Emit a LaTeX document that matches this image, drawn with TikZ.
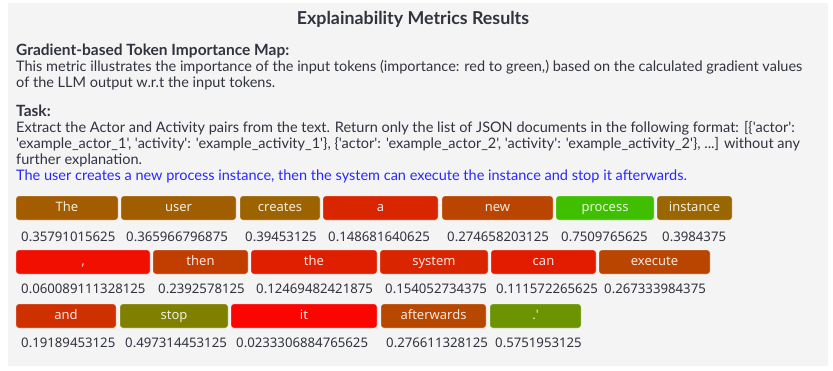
\documentclass[tikz,border=0pt]{standalone}
\usepackage{fontspec}
\setmainfont{Lato}[Ligatures=TeXOff]
\newfontfamily\tokfont{Noto Sans}[Ligatures=TeXOff]
\usepackage{xcolor}
\usepackage{tikz}
\definecolor{panelcolor}{RGB}{244, 244, 244}
\definecolor{bodycolor}{RGB}{49, 51, 63}
\definecolor{promptcolor}{RGB}{40, 40, 255}

\tikzset{
    token/.style={draw=white, draw opacity=0.35, line width=0.6pt, rounded corners=3pt, minimum height=24pt, inner sep=0pt, text=white, text opacity=0.88, text height=9.5pt, text depth=2.5pt, font=\tokfont\fontsize{13}{15}\selectfont},
    score/.style={anchor=west, inner sep=0pt, text=bodycolor, font=\tokfont\fontsize{13.2}{15}\selectfont},
    textline/.style={anchor=base west, inner sep=0pt, text=bodycolor, font=\fontsize{14.5}{17}\selectfont}
}

\begin{document}
\begin{tikzpicture}[x=1pt, y=-1pt]
        \useasboundingbox (0,0) rectangle (833,370);
        \fill[panelcolor] (8,3) rectangle (828,366);

        % Heading and explanation
        \node[inner sep=0pt, text=bodycolor, font=\fontsize{17.8}{20}\bfseries] (title) at (413,19) {Explainability Metrics Results};

        \node[textline, font=\fontsize{15.5}{17}\bfseries] (maphead) at (16,55) {Gradient-based Token Importance Map:};
        \node[textline] (mapline1) at (16,71) {This metric illustrates the importance of the input tokens (importance: red to green,) based on the calculated gradient values};
        \node[textline] (mapline2) at (16,87) {of the LLM output w.r.t the input tokens.};

        % Task prompt
        \node[textline, font=\fontsize{15.5}{17}\bfseries] (taskhead) at (16,116) {Task:};
        \node[textline] (taskline1) at (16,132) {Extract the Actor and Activity pairs from the text. Return only the list of JSON documents in the following format: [\{'actor':};
        \node[textline] (taskline2) at (16,148) {'example\_actor\_1', 'activity': 'example\_activity\_1'\}, \{'actor': 'example\_actor\_2', 'activity': 'example\_activity\_2'\}, ...] without any};
        \node[textline] (taskline3) at (16,164) {further explanation.};
        \node[textline, text=promptcolor] (prompt) at (16,180) {The user creates a new process instance, then the system can execute the instance and stop it afterwards.};

        % Tokens, first row
        \node[token, fill=red!64!green, minimum width=102pt] (tok1) at (67,208) {The};
        \node[token, fill=red!63!green, minimum width=115pt] (tok2) at (178.5,208) {user};
        \node[token, fill=red!61!green, minimum width=80pt] (tok3) at (280,208) {creates};
        \node[token, fill=red!85!green, minimum width=115pt] (tok4) at (380.5,208) {a};
        \node[token, fill=red!73!green, minimum width=111pt] (tok5) at (497.5,208) {new};
        \node[token, fill=red!25!green, minimum width=98pt] (tok6) at (605,208) {process};
        \node[token, fill=red!60!green, minimum width=75pt] (tok7) at (694.5,208) {instance};

        \node[score] (val1) at (21,237) {0.35791015625};
        \node[score] (val2) at (126,237) {0.365966796875};
        \node[score] (val3) at (245,237) {0.39453125};
        \node[score] (val4) at (328,237) {0.148681640625};
        \node[score] (val5) at (447,237) {0.274658203125};
        \node[score] (val6) at (561,237) {0.7509765625};
        \node[score] (val7) at (662,237) {0.3984375};

        % Tokens, second row
        \node[token, fill=red!94!green, minimum width=134pt] (tok8) at (83,262) {,};
        \node[token, fill=red!76!green, minimum width=95pt] (tok9) at (200.5,262) {then};
        \node[token, fill=red!88!green, minimum width=126pt] (tok10) at (314,262) {the};
        \node[token, fill=red!85!green, minimum width=108pt] (tok11) at (434,262) {system};
        \node[token, fill=red!89!green, minimum width=105pt] (tok12) at (543.5,262) {can};
        \node[token, fill=red!73!green, minimum width=111pt] (tok13) at (654.5,262) {execute};

        \node[score] (val8) at (21,289) {0.060089111328125};
        \node[score] (val9) at (158,289) {0.2392578125};
        \node[score] (val10) at (256,289) {0.12469482421875};
        \node[score] (val11) at (385,289) {0.154052734375};
        \node[score] (val12) at (496,289) {0.111572265625};
        \node[score] (val13) at (604,289) {0.267333984375};

        % Tokens, third row
        \node[token, fill=red!81!green, minimum width=100pt] (tok14) at (66,316) {and};
        \node[token, fill=red!50!green, minimum width=108pt] (tok15) at (174,316) {stop};
        \node[token, fill=red!98!green, minimum width=146pt] (tok16) at (304,316) {it};
        \node[token, fill=red!72!green, minimum width=105pt] (tok17) at (433.5,316) {afterwards};
        \node[token, fill=red!42!green, minimum width=91pt] (tok18) at (535.5,316) {.'};

        \node[score] (val14) at (21,343) {0.19189453125};
        \node[score] (val15) at (125,343) {0.497314453125};
        \node[score] (val16) at (236,343) {0.0233306884765625};
        \node[score] (val17) at (386,343) {0.276611328125};
        \node[score] (val18) at (495,343) {0.5751953125};

    \end{tikzpicture}
\end{document}
